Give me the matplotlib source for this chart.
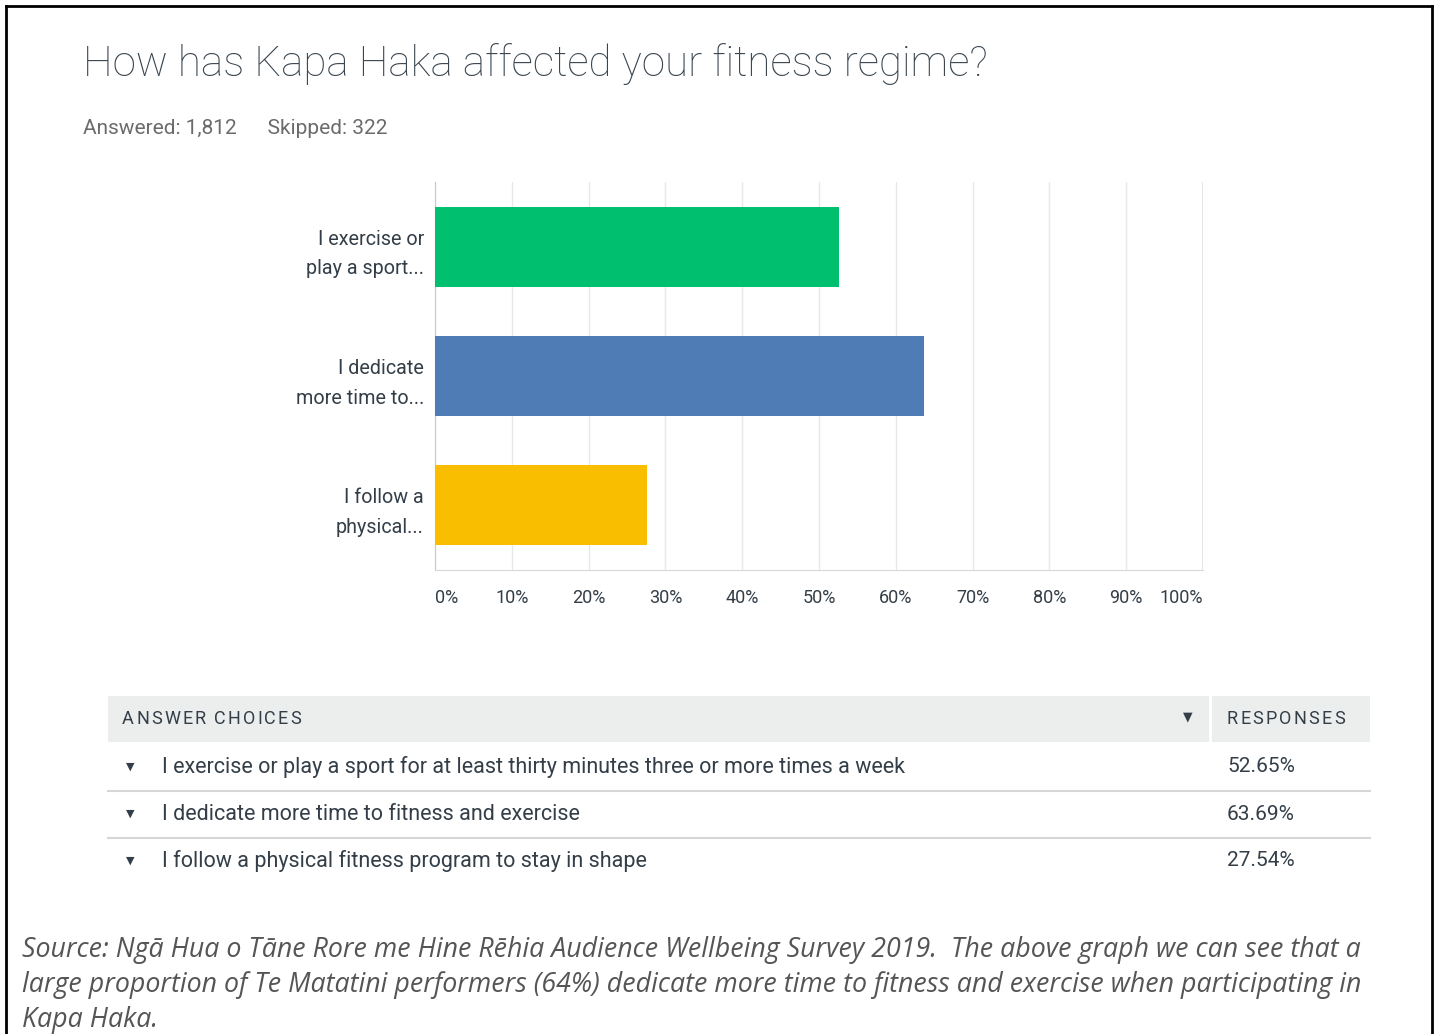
import matplotlib.pyplot as plt
from matplotlib.lines import Line2D
from matplotlib.patches import Rectangle

W, H = 1438, 1034

title = 'How has Kapa Haka affected your fitness regime?'
answered = 1812
skipped = 322
short_labels = ['I exercise or\nplay a sport...', 'I dedicate\nmore time to...', 'I follow a\nphysical...']
choices = ['I exercise or play a sport for at least thirty minutes three or more times a week',
           'I dedicate more time to fitness and exercise',
           'I follow a physical fitness program to stay in shape']
responses = [52.65, 63.69, 27.54]
colors = ['#00bf6f', '#507cb6', '#f9be00']
ticks = [0, 10, 20, 30, 40, 50, 60, 70, 80, 90, 100]
caption = ('Source: Ngā Hua o Tāne Rore me Hine Rēhia Audience Wellbeing Survey 2019.  The above graph we can see that a\n'
           'large proportion of Te Matatini performers (64%) dedicate more time to fitness and exercise when participating in\n'
           'Kapa Haka.')

TXT = '#333e48'

fig = plt.figure(figsize=(W / 100, H / 100), dpi=100)
fig.patch.set_facecolor('white')
renderer = fig.canvas.get_renderer()


def px(x, y):
    return x / W, 1 - y / H


def tracked(x, y, s, track, **kw):
    # letter-spaced caps for the table header
    for ch in s:
        if ch == ' ':
            x += kw['fontsize'] * 0.45
            continue
        t = fig.text(*px(x, y), ch, va='center', ha='left', **kw)
        x += t.get_window_extent(renderer).width + track


# outer frame
for (x0, y0), (x1, y1) in [((6, 6), (1432, 6)), ((6, 6), (6, 1040)), ((1432, 6), (1432, 1040))]:
    fig.add_artist(Line2D([x0 / W, x1 / W], [1 - y0 / H, 1 - y1 / H], color='black', lw=2))

fig.text(*px(83, 64), title, fontsize=30.3, color='#3a4550', family='Roboto',
         fontweight='light', va='center', ha='left')
fig.text(*px(83, 129), f'Answered: {answered:,}      Skipped: {skipped}', fontsize=15,
         color='#6b6b6b', family='Roboto', va='center', ha='left')

# bar chart
ax = fig.add_axes([435 / W, (H - 570) / H, 768 / W, 388 / H])
ypos = list(range(len(responses)))
ax.barh(ypos, responses, height=0.62, color=colors, zorder=3)
ax.set_xlim(0, 100)
ax.set_ylim(len(responses) - 0.5, -0.5)
ax.set_xticks(ticks)
ax.set_xticklabels([f'{t}%' for t in ticks], fontsize=13, color=TXT, family='Roboto')
xl = ax.get_xticklabels()
xl[0].set_ha('left')
xl[-1].set_ha('right')
ax.set_yticks(ypos)
ax.set_yticklabels(short_labels, fontsize=14.2, color=TXT, family='Roboto',
                   linespacing=1.7)
ax.tick_params(axis='y', length=0, pad=8)
ax.tick_params(axis='x', length=0, pad=14)
ax.grid(axis='x', color='#e8e8e8', lw=1, zorder=0)
for s in ['top', 'right']:
    ax.spines[s].set_visible(False)
ax.spines['left'].set_color('#c8c8c8')
ax.spines['bottom'].set_color('#d8d8d8')
ax.axvline(100, color='#e0e0e0', lw=1.2, zorder=1)

# table of answer choices
fig.add_artist(Rectangle(px(108, 742), 1262 / W, 46 / H, color='#eceeee', lw=0))
fig.add_artist(Line2D([1210 / W] * 2, [1 - 696 / H, 1 - 742 / H], color='white', lw=2))
tracked(122, 719, 'ANSWER CHOICES', 2.2, fontsize=13, color=TXT, family='Roboto')
tracked(1227, 719, 'RESPONSES', 2.2, fontsize=13, color=TXT, family='Roboto')
fig.text(*px(1188, 717), '▼', fontsize=9, color=TXT, family='DejaVu Sans',
         va='center', ha='center')

row_y = [767, 814, 861]
for i, (txt, val) in enumerate(zip(choices, responses)):
    y = row_y[i]
    fig.text(*px(130, y), '▼', fontsize=8, color=TXT, family='DejaVu Sans',
             va='center', ha='center')
    fig.text(*px(162, y), txt, fontsize=15.5, color=TXT, family='Roboto', va='center')
    fig.text(*px(1227, y), f'{val:.2f}%', fontsize=15, color=TXT, family='Roboto',
             va='center')
    if i < len(choices) - 1:
        ly = 1 - (y + 23.5) / H
        fig.add_artist(Line2D([108 / W, 1370 / W], [ly, ly], color='#d5d7d7', lw=1.5))

fig.text(*px(22, 985), caption, fontsize=19.3, color='#555555', family='Open Sans',
         style='italic', va='center', ha='left', linespacing=1.33)

fig.savefig('out.png', dpi=100)
